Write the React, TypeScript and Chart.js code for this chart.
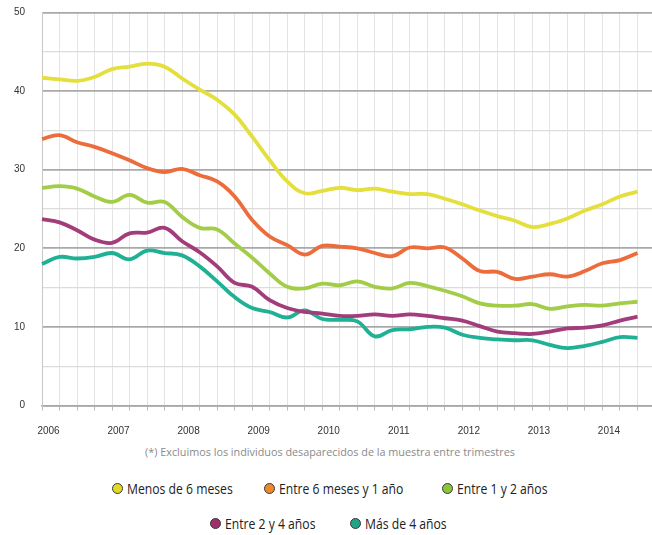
import React, { useEffect, useRef } from "react";
import { Chart, registerables } from "chart.js";

Chart.register(...registerables);

const years = ["2006", "2007", "2008", "2009", "2010", "2011", "2012", "2013", "2014"];
const quarters = ["T1", "T2", "T3", "T4"];
const categories: string[] = [];
years.forEach((y) => quarters.forEach((q) => categories.push(`${y} ${q}`)));

const menos6: number[] = [41.7, 41.5, 41.3, 41.8, 42.8, 43.1, 43.5, 43.1, 41.6, 40.2, 38.9, 37.0, 34.2, 31.2, 28.5, 27.0, 27.3, 27.7, 27.4, 27.6, 27.2, 26.9, 26.9, 26.3, 25.6, 24.8, 24.1, 23.5, 22.7, 23.1, 23.8, 24.8, 25.6, 26.6, 27.2];
const entre6m1a: number[] = [33.9, 34.4, 33.5, 32.9, 32.1, 31.2, 30.2, 29.7, 30.1, 29.3, 28.5, 26.6, 23.6, 21.5, 20.4, 19.2, 20.3, 20.2, 20.0, 19.4, 19.0, 20.1, 20.0, 20.1, 18.7, 17.1, 17.0, 16.1, 16.4, 16.7, 16.4, 17.1, 18.1, 18.5, 19.4];
const entre1a2a: number[] = [27.7, 27.9, 27.6, 26.6, 25.9, 26.8, 25.8, 25.9, 24.0, 22.6, 22.4, 20.6, 18.8, 16.8, 15.1, 14.9, 15.5, 15.3, 15.8, 15.1, 14.9, 15.6, 15.2, 14.6, 13.9, 13.0, 12.7, 12.7, 12.9, 12.3, 12.6, 12.8, 12.7, 13.0, 13.2];
const entre2a4a: number[] = [23.7, 23.3, 22.3, 21.1, 20.7, 21.9, 22.0, 22.6, 20.9, 19.5, 17.7, 15.6, 15.1, 13.4, 12.4, 11.9, 11.7, 11.4, 11.4, 11.6, 11.4, 11.6, 11.4, 11.1, 10.8, 10.1, 9.4, 9.2, 9.1, 9.4, 9.8, 9.9, 10.2, 10.8, 11.3];
const mas4a: number[] = [18.0, 18.9, 18.7, 18.9, 19.4, 18.6, 19.7, 19.4, 19.1, 17.7, 15.8, 13.8, 12.4, 11.9, 11.2, 12.1, 11.0, 10.9, 10.7, 8.8, 9.6, 9.7, 10.0, 9.9, 9.0, 8.6, 8.4, 8.3, 8.3, 7.7, 7.3, 7.6, 8.1, 8.7, 8.6];

const seriesNames = ["Menos de 6 meses", "Entre 6 meses y 1 año", "Entre 1 y 2 años", "Entre 2 y 4 años", "Más de 4 años"];
const seriesData = [menos6, entre6m1a, entre1a2a, entre2a4a, mas4a];
const lineColors = ["#e4df3c", "#ec6c3c", "#a3cd48", "#a23c7a", "#20b094"];
const markerColors = ["#e2d925", "#ee8a2c", "#8ec43c", "#a0306c", "#22a386"];

const footnote = "(*) Excluimos los individuos desaparecidos de la muestra entre trimestres";

const legendLayout = [
  { left: 112, top: 479 },
  { left: 264, top: 479 },
  { left: 442, top: 479 },
  { left: 210, top: 514 },
  { left: 350, top: 514 },
];

export default function App() {
  const canvasRef = useRef<HTMLCanvasElement | null>(null);

  useEffect(() => {
    const canvas = canvasRef.current;
    if (!canvas) return;
    const chart = new Chart(canvas, {
      type: "line",
      data: {
        labels: categories,
        datasets: seriesData.map((d, i) => ({
          label: seriesNames[i],
          data: d,
          borderColor: lineColors[i],
          backgroundColor: lineColors[i],
          borderWidth: 3.8,
          pointRadius: 0,
          tension: 0.4,
          fill: false,
        })),
      },
      options: {
        animation: false,
        responsive: false,
        maintainAspectRatio: false,
        layout: { padding: { top: 12.5, right: 0, left: 0, bottom: 0 } },
        plugins: { legend: { display: false }, tooltip: { enabled: false } },
        scales: {
          x: {
            type: "category",
            offset: false,
            afterFit: (s: any) => {
              s.height = 440 - 405.5;
              s.paddingLeft = 0;
              s.paddingRight = 0;
            },
            grid: {
              color: "#e4e4e4",
              lineWidth: 1,
              drawTicks: true,
              tickLength: 5,
              tickColor: "#b8b8b8",
            },
            border: { display: true, color: "#a8a8a8", width: 1.5 },
            ticks: {
              autoSkip: false,
              maxRotation: 0,
              minRotation: 0,
              padding: 15,
              labelOffset: 6.5,
              color: "#333",
              font: { family: "'Liberation Sans', Arial", size: 10 },
              callback: (_v: any, i: number) => (i % 4 === 0 ? categories[i].slice(0, 4) : ""),
            },
          },
          y: {
            min: 0,
            max: 50,
            afterFit: (s: any) => {
              s.width = 42;
              s.paddingTop = 0;
              s.paddingBottom = 0;
            },
            grid: {
              color: (ctx: any) => (ctx.tick && ctx.tick.value % 10 === 0 ? "#a9a9a9" : "#dcdcdc"),
              lineWidth: (ctx: any) => (ctx.tick && ctx.tick.value % 10 === 0 ? 1.8 : 1.2),
              drawTicks: false,
            },
            border: { display: true, color: "#c8c8c8", width: 1 },
            ticks: {
              stepSize: 5,
              padding: 17,
              color: "#333",
              font: { family: "'Liberation Sans', Arial", size: 10 },
              callback: (v: any) => (Number(v) % 10 === 0 ? String(v) : ""),
            },
          },
        },
      },
    });
    return () => chart.destroy();
  }, []);

  return (
    <div
      style={{
        position: "absolute",
        left: 0,
        top: 0,
        width: 652,
        height: 535,
        overflow: "hidden",
        background: "#fff",
        fontFamily: "'Open Sans', sans-serif",
      }}
    >
      <canvas ref={canvasRef} width={655} height={440} style={{ position: "absolute", left: 0, top: 0, width: 655, height: 440 }} />
      <div
        style={{
          position: "absolute",
          left: 0,
          width: 660,
          top: 444,
          textAlign: "center",
          fontSize: 11.5,
          color: "#8a8a8a",
          whiteSpace: "nowrap",
          transform: "scaleX(0.94)",
          transformOrigin: "330px 0",
        }}
      >
        {footnote}
      </div>
      {seriesNames.map((name, i) => (
        <div
          key={name}
          style={{
            position: "absolute",
            left: legendLayout[i].left,
            top: legendLayout[i].top,
            display: "flex",
            alignItems: "center",
            whiteSpace: "nowrap",
            height: 18,
          }}
        >
          <span
            style={{
              display: "inline-block",
              width: 9,
              height: 9,
              borderRadius: "50%",
              background: markerColors[i],
              border: "1.5px solid #3a3a3a",
              marginRight: 4,
            }}
          />
          <span
            style={{
              display: "inline-block",
              fontSize: 14.5,
              color: "#222",
              transform: "scaleX(0.84)",
              transformOrigin: "0 50%",
            }}
          >
            {name}
          </span>
        </div>
      ))}
    </div>
  );
}
